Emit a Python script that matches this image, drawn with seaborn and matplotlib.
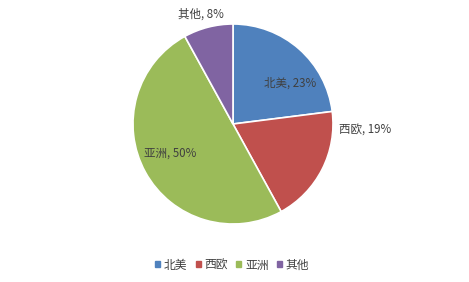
import matplotlib
matplotlib.use("Agg")
import matplotlib.pyplot as plt
import seaborn as sns
import numpy as np

sns.set_theme(style="white")
plt.rcParams['font.family'] = ['Noto Sans CJK SC', 'DejaVu Sans']

categories = ["北美", "西欧", "亚洲", "其他"]
values = [23, 19, 50, 8]
colors = ["#4F81BD", "#C0504D", "#9BBB59", "#8064A2"]
# label positions (in units of pie radius), as laid out in the reference
label_pos = [(0.57, 0.41), (1.32, -0.06), (-0.63, -0.29), (-0.32, 1.10)]

fig = plt.figure(figsize=(4.69, 2.82), dpi=100)
ax = fig.add_axes([133/469, 58/282, 200/469, 200/282])
wedges, _ = ax.pie(values, colors=colors, startangle=90, counterclock=False,
                   wedgeprops=dict(edgecolor="white", linewidth=1.2), radius=1.0)
ax.set_xlim(-1, 1)
ax.set_ylim(-1, 1)
ax.set_aspect("equal")
ax.axis("off")

for cat, v, (x, y) in zip(categories, values, label_pos):
    ax.text(x, y, f"{cat}, {v}%", ha="center", va="center", fontsize=8.3,
            color="#404040", clip_on=False)

handles = [plt.Rectangle((0, 0), 1, 1, color=c) for c in colors]
fig.legend(handles, categories, loc="center", bbox_to_anchor=(232/469, 1 - 265/282),
           ncol=4, frameon=False, fontsize=8.5, handlelength=0.45, handleheight=0.45,
           handletextpad=0.3, columnspacing=0.7, labelcolor="#404040")

fig.savefig("out.png", dpi=100)
